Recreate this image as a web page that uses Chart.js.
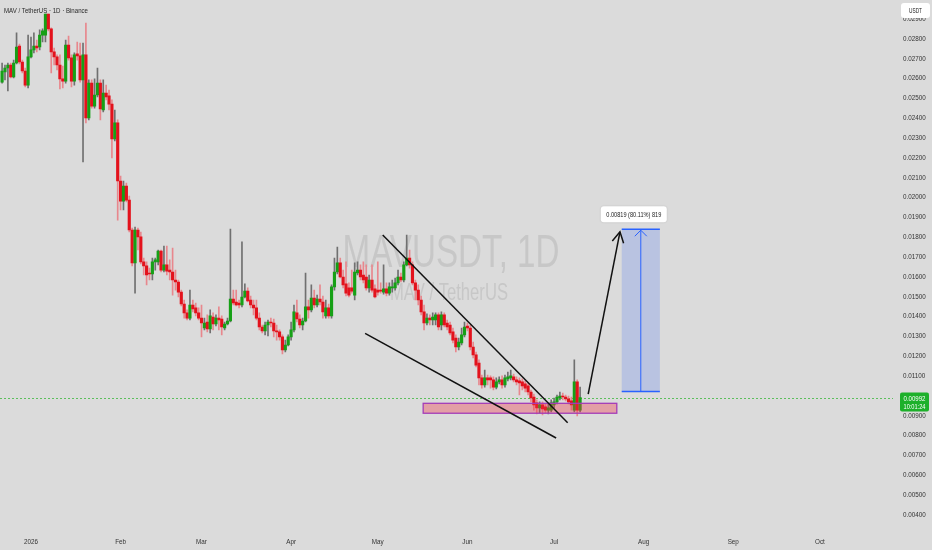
<!DOCTYPE html>
<html>
<head>
<meta charset="utf-8">
<script src="https://cdn.jsdelivr.net/npm/chart.js"></script>
<style>
html,body{margin:0;padding:0;background:#dbdbdb;overflow:hidden}
#wrap{position:relative;width:932px;height:550px}
canvas{display:block}
</style>
</head>
<body>
<div id="wrap"><canvas id="c" width="932" height="550"></canvas></div>
<script>
// ---------- DATA ----------
const titleText = 'MAV / TetherUS · 1D · Binance';
const watermarkLines = ['MAVUSDT, 1D', 'MAV / TetherUS'];
const currencyLabel = 'USDT';

const monthLabels = ['2026','Feb','Mar','Apr','May','Jun','Jul','Aug','Sep','Oct'];
const monthStartDays = [0,31,59,90,120,151,181,212,243,273]; // days since 1 Jan 2026
const priceTicks = [0.004,0.005,0.006,0.007,0.008,0.009,0.010,0.011,0.012,0.013,0.014,0.015,0.016,
  0.017,0.018,0.019,0.020,0.021,0.022,0.023,0.024,0.025,0.026,0.027,0.028,0.029];

const firstDay = -10; // first candle: 22 Dec 2025

const opens = [
 0.02583,0.02634,0.02654,0.02669,0.02609,0.02679,0.02765,0.02684,0.02639,0.02568,
 0.02710,0.02745,0.02765,0.02760,0.02820,0.02820,0.02977,0.02851,0.02735,0.02710,
 0.02669,0.02599,0.02588,0.02770,0.02705,0.02588,0.02725,0.02715,0.02594,0.02720,
 0.02402,0.02578,0.02462,0.02518,0.02578,0.02442,0.02528,0.02513,0.02472,0.02296,
 0.02377,0.02084,0.01983,0.02059,0.01988,0.01837,0.01671,0.01837,0.01802,0.01676,
 0.01656,0.01620,0.01615,0.01676,0.01676,0.01731,0.01635,0.01661,0.01635,0.01625,
 0.01585,0.01575,0.01524,0.01464,0.01419,0.01393,0.01459,0.01444,0.01419,0.01393,
 0.01343,0.01373,0.01338,0.01398,0.01363,0.01393,0.01388,0.01343,0.01363,0.01378,
 0.01489,0.01474,0.01469,0.01459,0.01499,0.01529,0.01484,0.01459,0.01444,0.01393,
 0.01348,0.01328,0.01358,0.01373,0.01368,0.01328,0.01323,0.01298,0.01232,0.01257,
 0.01298,0.01333,0.01419,0.01388,0.01358,0.01378,0.01449,0.01434,0.01494,0.01459,
 0.01489,0.01474,0.01404,0.01444,0.01404,0.01550,0.01625,0.01671,0.01600,0.01565,
 0.01545,0.01545,0.01509,0.01620,0.01635,0.01610,0.01600,0.01545,0.01585,0.01540,
 0.01534,0.01534,0.01524,0.01540,0.01519,0.01545,0.01545,0.01570,0.01600,0.01585,
 0.01661,0.01696,0.01661,0.01570,0.01534,0.01484,0.01424,0.01368,0.01393,0.01383,
 0.01383,0.01409,0.01358,0.01409,0.01368,0.01358,0.01323,0.01292,0.01247,0.01267,
 0.01308,0.01353,0.01343,0.01247,0.01207,0.01166,0.01091,0.01056,0.01091,0.01091,
 0.01081,0.01045,0.01071,0.01081,0.01056,0.01086,0.01091,0.01096,0.01081,0.01076,
 0.01071,0.01061,0.01051,0.01020,0.00995,0.00965,0.00940,0.00955,0.00945,0.00929,
 0.00929,0.00955,0.00970,0.00990,0.01000,0.00995,0.00985,0.00975,0.00929,0.01071,
 0.00929
];
const highs = [
 0.02679,0.02669,0.02679,0.02679,0.02694,0.02831,0.02775,0.02694,0.02654,0.02820,
 0.02810,0.02831,0.02795,0.02846,0.02851,0.02997,0.02987,0.02856,0.02755,0.02720,
 0.02720,0.02664,0.02795,0.02815,0.02720,0.02730,0.02785,0.02780,0.02780,0.02881,
 0.02594,0.02594,0.02599,0.02654,0.02594,0.02594,0.02568,0.02543,0.02493,0.02442,
 0.02392,0.02109,0.02084,0.02074,0.02008,0.01847,0.01852,0.01847,0.01827,0.01696,
 0.01676,0.01645,0.01696,0.01696,0.01736,0.01736,0.01756,0.01756,0.01686,0.01746,
 0.01635,0.01585,0.01534,0.01484,0.01434,0.01534,0.01484,0.01469,0.01444,0.01459,
 0.01393,0.01409,0.01434,0.01419,0.01409,0.01449,0.01404,0.01373,0.01393,0.01842,
 0.01534,0.01534,0.01484,0.01777,0.01565,0.01545,0.01504,0.01484,0.01484,0.01419,
 0.01358,0.01373,0.01383,0.01393,0.01388,0.01358,0.01333,0.01308,0.01282,0.01308,
 0.01373,0.01459,0.01484,0.01409,0.01393,0.01620,0.01484,0.01560,0.01534,0.01509,
 0.01560,0.01504,0.01484,0.01464,0.01560,0.01696,0.01751,0.01696,0.01635,0.01676,
 0.01570,0.01635,0.01671,0.01676,0.01661,0.01676,0.01661,0.01610,0.01661,0.01560,
 0.01676,0.01570,0.01661,0.01570,0.01570,0.01585,0.01595,0.01635,0.01620,0.01676,
 0.01812,0.01736,0.01676,0.01585,0.01560,0.01504,0.01459,0.01414,0.01409,0.01419,
 0.01419,0.01419,0.01424,0.01419,0.01383,0.01373,0.01343,0.01308,0.01292,0.01343,
 0.01373,0.01368,0.01358,0.01272,0.01222,0.01182,0.01106,0.01131,0.01106,0.01101,
 0.01096,0.01091,0.01096,0.01101,0.01106,0.01121,0.01131,0.01111,0.01096,0.01091,
 0.01086,0.01076,0.01066,0.01030,0.01010,0.00980,0.00970,0.00970,0.00960,0.00960,
 0.00980,0.00990,0.01005,0.01020,0.01015,0.01005,0.01000,0.00995,0.01182,0.01081,
 0.01045
];
const lows = [
 0.02578,0.02594,0.02538,0.02604,0.02604,0.02674,0.02674,0.02629,0.02558,0.02553,
 0.02705,0.02730,0.02735,0.02745,0.02785,0.02785,0.02841,0.02629,0.02669,0.02644,
 0.02548,0.02553,0.02578,0.02694,0.02558,0.02568,0.02694,0.02583,0.02180,0.02377,
 0.02392,0.02452,0.02452,0.02508,0.02392,0.02432,0.02493,0.02442,0.02200,0.02286,
 0.01887,0.01938,0.01938,0.01978,0.01827,0.01656,0.01519,0.01736,0.01666,0.01610,
 0.01560,0.01585,0.01585,0.01635,0.01661,0.01625,0.01625,0.01610,0.01585,0.01509,
 0.01534,0.01499,0.01454,0.01393,0.01383,0.01383,0.01424,0.01404,0.01383,0.01298,
 0.01333,0.01323,0.01318,0.01333,0.01353,0.01333,0.01308,0.01333,0.01358,0.01373,
 0.01459,0.01454,0.01444,0.01449,0.01494,0.01474,0.01444,0.01409,0.01383,0.01333,
 0.01318,0.01308,0.01303,0.01348,0.01298,0.01282,0.01282,0.01212,0.01222,0.01252,
 0.01282,0.01323,0.01373,0.01343,0.01333,0.01373,0.01393,0.01424,0.01444,0.01449,
 0.01459,0.01393,0.01393,0.01393,0.01393,0.01534,0.01615,0.01595,0.01545,0.01504,
 0.01499,0.01519,0.01484,0.01610,0.01585,0.01570,0.01534,0.01524,0.01524,0.01494,
 0.01509,0.01519,0.01514,0.01504,0.01509,0.01524,0.01534,0.01560,0.01575,0.01575,
 0.01656,0.01645,0.01560,0.01484,0.01459,0.01409,0.01333,0.01358,0.01358,0.01358,
 0.01358,0.01333,0.01333,0.01348,0.01333,0.01308,0.01267,0.01222,0.01232,0.01257,
 0.01298,0.01328,0.01232,0.01192,0.01146,0.01056,0.01040,0.01045,0.01056,0.01040,
 0.01030,0.01035,0.01061,0.01040,0.01045,0.01076,0.01081,0.01071,0.01056,0.01005,
 0.01030,0.01020,0.01005,0.00970,0.00929,0.00909,0.00914,0.00904,0.00914,0.00909,
 0.00919,0.00940,0.00960,0.00980,0.00980,0.00975,0.00960,0.00929,0.00919,0.00899,
 0.00919
];
const closes = [
 0.02639,0.02654,0.02669,0.02609,0.02679,0.02760,0.02684,0.02639,0.02568,0.02710,
 0.02745,0.02765,0.02755,0.02820,0.02841,0.02977,0.02851,0.02735,0.02710,0.02669,
 0.02599,0.02588,0.02770,0.02705,0.02588,0.02720,0.02715,0.02594,0.02720,0.02402,
 0.02578,0.02462,0.02518,0.02578,0.02447,0.02528,0.02508,0.02472,0.02296,0.02377,
 0.02084,0.01983,0.02059,0.01988,0.01837,0.01671,0.01837,0.01802,0.01676,0.01656,
 0.01610,0.01615,0.01676,0.01686,0.01731,0.01635,0.01661,0.01630,0.01625,0.01585,
 0.01575,0.01524,0.01464,0.01419,0.01393,0.01459,0.01439,0.01419,0.01393,0.01368,
 0.01368,0.01338,0.01404,0.01363,0.01393,0.01383,0.01348,0.01363,0.01378,0.01489,
 0.01469,0.01459,0.01459,0.01499,0.01529,0.01479,0.01459,0.01444,0.01393,0.01348,
 0.01328,0.01358,0.01373,0.01368,0.01328,0.01323,0.01298,0.01232,0.01257,0.01298,
 0.01333,0.01424,0.01388,0.01358,0.01378,0.01449,0.01434,0.01494,0.01459,0.01489,
 0.01474,0.01424,0.01444,0.01404,0.01550,0.01625,0.01671,0.01600,0.01560,0.01519,
 0.01509,0.01529,0.01625,0.01635,0.01600,0.01585,0.01545,0.01585,0.01534,0.01499,
 0.01524,0.01529,0.01540,0.01519,0.01550,0.01550,0.01570,0.01600,0.01585,0.01661,
 0.01696,0.01661,0.01570,0.01534,0.01484,0.01424,0.01368,0.01393,0.01383,0.01398,
 0.01409,0.01348,0.01409,0.01358,0.01348,0.01318,0.01282,0.01247,0.01272,0.01308,
 0.01348,0.01343,0.01247,0.01207,0.01156,0.01091,0.01056,0.01091,0.01081,0.01081,
 0.01045,0.01071,0.01081,0.01056,0.01091,0.01096,0.01101,0.01081,0.01071,0.01066,
 0.01051,0.01040,0.01020,0.00990,0.00955,0.00940,0.00955,0.00935,0.00929,0.00940,
 0.00965,0.00970,0.00995,0.01000,0.00995,0.00985,0.00970,0.00955,0.01071,0.00929,
 0.00992
];

const lastPrice = 0.00992;
const lastTimeText = '10:01:24';
// drawings, in [day, price] units
const wedgeUpper = [[121.7, 0.01812], [185.7, 0.00865]];
const wedgeLower = [[115.6, 0.01316], [181.7, 0.00788]];
const projectionArrow = [[192.8, 0.01009], [203.8, 0.01828]];
const supportZone = {fromDay: 135.7, toDay: 202.7, low: 0.00913, high: 0.00963};
const targetRange = {fromDay: 204.4, toDay: 217.6, low: 0.01022, high: 0.01841};
const targetText = '0.00819 (80.11%) 819';

// axis calibration (pixel of 1 Jan, px per day, px of 0.016, px per unit price)
const axisCal = {dayZeroPx: 31, pxPerDay: 2.89, refPricePx: 277, refPrice: 0.016, pxPerPrice: 19830};

// ---------- CHART ----------
const days = opens.map((_, i) => firstDay + i);
const isUp = opens.map((o, i) => closes[i] >= o);
const UP = '#16a016', DOWN = '#e3121c', UP_WICK = '#707070', DOWN_WICK = '#e8878d';
const AXISFONT = "'Liberation Sans',Arial,sans-serif";

function fitText(ctx, text, x, y, font, width, align, color) {
  ctx.save();
  ctx.font = font;
  const w = ctx.measureText(text).width;
  ctx.translate(x, y);
  ctx.scale(width / w, 1);
  ctx.textAlign = align;
  ctx.textBaseline = 'alphabetic';
  ctx.fillStyle = color;
  ctx.fillText(text, 0, 0);
  ctx.restore();
}
function roundRect(ctx, x, y, w, h, r) {
  ctx.beginPath();
  ctx.moveTo(x + r, y);
  ctx.lineTo(x + w - r, y); ctx.quadraticCurveTo(x + w, y, x + w, y + r);
  ctx.lineTo(x + w, y + h - r); ctx.quadraticCurveTo(x + w, y + h, x + w - r, y + h);
  ctx.lineTo(x + r, y + h); ctx.quadraticCurveTo(x, y + h, x, y + h - r);
  ctx.lineTo(x, y + r); ctx.quadraticCurveTo(x, y, x + r, y);
  ctx.closePath();
}

const overlay = {
  id: 'overlay',
  beforeDraw(chart) {
    const c = chart.ctx;
    c.save(); c.fillStyle = '#dbdbdb'; c.fillRect(0, 0, chart.width, chart.height); c.restore();
  },
  beforeDatasetsDraw(chart) {
    const c = chart.ctx, Y = chart.scales.y, a = chart.chartArea;
    fitText(c, watermarkLines[0], 451, 267, "47px 'Liberation Sans',Arial,sans-serif", 217, 'center', 'rgba(160,160,160,0.32)');
    fitText(c, watermarkLines[1], 449, 300, "23px 'Liberation Sans',Arial,sans-serif", 118, 'center', 'rgba(160,160,160,0.32)');
    const yp = Math.round(Y.getPixelForValue(lastPrice)) + 0.5;
    c.save();
    c.strokeStyle = '#5cbf5c'; c.lineWidth = 1; c.setLineDash([2, 2]);
    c.beginPath(); c.moveTo(a.left, yp); c.lineTo(a.right, yp); c.stroke();
    c.restore();
  },
  afterDatasetsDraw(chart) {
    const c = chart.ctx, X = chart.scales.x, Y = chart.scales.y;
    const px = d => X.getPixelForValue(d), py = v => Y.getPixelForValue(v);
    c.save();
    let x0 = px(supportZone.fromDay), x1 = px(supportZone.toDay);
    let y0 = py(supportZone.high), y1 = py(supportZone.low);
    c.fillStyle = 'rgba(242,54,69,0.36)';
    c.fillRect(x0, y0, x1 - x0, y1 - y0);
    c.strokeStyle = '#a43cb8'; c.lineWidth = 1.3;
    c.strokeRect(x0, y0, x1 - x0, y1 - y0);
    x0 = px(targetRange.fromDay); x1 = px(targetRange.toDay);
    y0 = py(targetRange.high); y1 = py(targetRange.low);
    c.fillStyle = 'rgba(41,98,255,0.19)';
    c.fillRect(x0, y0, x1 - x0, y1 - y0);
    c.strokeStyle = '#2962ff'; c.lineWidth = 1.5;
    c.beginPath(); c.moveTo(x0, y0); c.lineTo(x1, y0); c.moveTo(x0, y1); c.lineTo(x1, y1); c.stroke();
    const cx = (x0 + x1) / 2;
    c.lineWidth = 1;
    c.beginPath(); c.moveTo(cx, y1); c.lineTo(cx, y0 + 1);
    c.moveTo(cx - 6, y0 + 7); c.lineTo(cx, y0 + 1); c.lineTo(cx + 6, y0 + 7); c.stroke();
    c.strokeStyle = '#111'; c.lineWidth = 1.5;
    [wedgeUpper, wedgeLower].forEach(l => {
      c.beginPath(); c.moveTo(px(l[0][0]), py(l[0][1])); c.lineTo(px(l[1][0]), py(l[1][1])); c.stroke();
    });
    const ax0 = px(projectionArrow[0][0]), ay0 = py(projectionArrow[0][1]);
    const ax1 = px(projectionArrow[1][0]), ay1 = py(projectionArrow[1][1]);
    c.beginPath(); c.moveTo(ax0, ay0); c.lineTo(ax1, ay1); c.stroke();
    const ang = Math.atan2(ay1 - ay0, ax1 - ax0), L = 12, sp = 0.5;
    c.beginPath();
    c.moveTo(ax1 - L * Math.cos(ang - sp), ay1 - L * Math.sin(ang - sp));
    c.lineTo(ax1, ay1);
    c.lineTo(ax1 - L * Math.cos(ang + sp), ay1 - L * Math.sin(ang + sp));
    c.stroke();
    c.restore();
  },
  afterDraw(chart) {
    const c = chart.ctx, X = chart.scales.x, Y = chart.scales.y;
    c.save();
    fitText(c, titleText, 4, 13, "7.5px 'Liberation Sans',Arial,sans-serif", 84, 'left', '#2a2a2a');
    const lx = (X.getPixelForValue(targetRange.fromDay) + X.getPixelForValue(targetRange.toDay)) / 2 - 7;
    const ly = Y.getPixelForValue(targetRange.high) - 15;
    c.shadowColor = 'rgba(0,0,0,0.15)'; c.shadowBlur = 2;
    c.fillStyle = '#ffffff';
    roundRect(c, lx - 33, ly - 8, 66, 16, 3); c.fill();
    c.shadowBlur = 0;
    fitText(c, targetText, lx, ly + 2.5, "7px 'Liberation Sans',Arial,sans-serif", 55, 'center', '#222');
    const yp = Y.getPixelForValue(lastPrice);
    c.fillStyle = '#1db02a';
    roundRect(c, 900, yp - 5, 29, 19, 2); c.fill();
    fitText(c, lastPrice.toFixed(5), 914.5, yp + 3, "7px 'Liberation Sans',Arial,sans-serif", 22, 'center', '#ffffff');
    fitText(c, lastTimeText, 914.5, yp + 11, "7px 'Liberation Sans',Arial,sans-serif", 22, 'center', '#ffffff');
    c.fillStyle = '#ffffff';
    roundRect(c, 901, 3, 29, 15, 3); c.fill();
    fitText(c, currencyLabel, 915.5, 13, "6.5px 'Liberation Sans',Arial,sans-serif", 13, 'center', '#222');
    c.restore();
  }
};

const chart = new Chart(document.getElementById('c'), {
  type: 'bar',
  data: {
    datasets: [
      {
        label: 'wick',
        data: days.map((d, i) => ({x: d, y: [lows[i], highs[i]]})),
        backgroundColor: isUp.map(u => u ? UP_WICK : DOWN_WICK),
        barThickness: 1, borderWidth: 0, grouped: false, order: 2
      },
      {
        label: 'body',
        data: days.map((d, i) => ({x: d, y: [opens[i], closes[i]]})),
        backgroundColor: isUp.map(u => u ? UP : DOWN),
        borderWidth: 0, minBarLength: 1,
        barThickness: 2.5, grouped: false, order: 1
      }
    ]
  },
  options: {
    responsive: false, animation: false, devicePixelRatio: 1,
    layout: {padding: 0},
    plugins: {legend: {display: false}, tooltip: {enabled: false}},
    scales: {
      x: {
        type: 'linear', offset: false,
        min: -10.73, max: 298.3,
        grid: {display: false, drawTicks: false}, border: {display: false},
        afterBuildTicks: s => { s.ticks = monthStartDays.map(v => ({value: v})); },
        afterFit: s => { s.height = 22; },
        ticks: {
          autoSkip: false, maxRotation: 0, padding: 10, color: '#333',
          font: {family: AXISFONT, size: 6.3},
          callback: (v, i) => monthLabels[i]
        }
      },
      y: {
        position: 'right',
        min: 0.003342, max: 0.029969,
        grid: {display: false, drawTicks: false}, border: {display: false},
        afterBuildTicks: s => { s.ticks = priceTicks.map(v => ({value: v})); },
        afterFit: s => { s.width = 39; },
        ticks: {
          padding: 10, color: '#333', font: {family: AXISFONT, size: 6.3},
          callback: v => v.toFixed(5)
        }
      }
    }
  },
  plugins: [overlay]
});

// match the axis ranges to the chart area the layout produced
for (let k = 0; k < 2; k++) {
  const a = chart.chartArea;
  chart.options.scales.x.min = (a.left - axisCal.dayZeroPx) / axisCal.pxPerDay;
  chart.options.scales.x.max = (a.right - axisCal.dayZeroPx) / axisCal.pxPerDay;
  chart.options.scales.y.max = axisCal.refPrice + (axisCal.refPricePx - a.top) / axisCal.pxPerPrice;
  chart.options.scales.y.min = axisCal.refPrice + (axisCal.refPricePx - a.bottom) / axisCal.pxPerPrice;
  chart.update('none');
}
</script>
</body>
</html>
